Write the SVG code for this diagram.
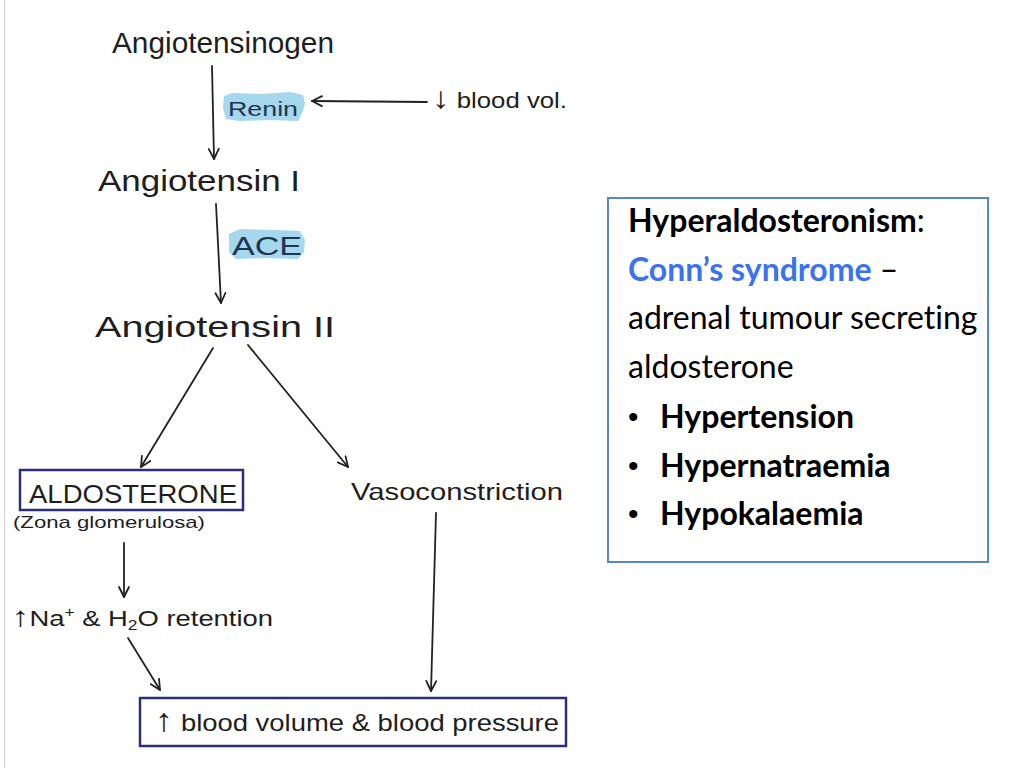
<svg xmlns="http://www.w3.org/2000/svg" width="1024" height="768" viewBox="0 0 1024 768">
<defs>
<marker id="ah" viewBox="0 0 12 12" refX="11" refY="6" markerWidth="12" markerHeight="12" markerUnits="userSpaceOnUse" orient="auto">
<path d="M1,1 L11,6 L1,11" fill="none" stroke="#222" stroke-width="1.8" stroke-linecap="round" stroke-linejoin="round"/>
</marker>
<style>
.hw{font-family:"Liberation Sans","DejaVu Sans",sans-serif;fill:#1e1e1e}
.enz{font-family:"Liberation Sans","DejaVu Sans",sans-serif;fill:#1c3550}
.hl{fill:#8fcdea;opacity:0.8}
.box{fill:none;stroke:#2e2e7e;stroke-width:2.5}
.conn{fill:none;stroke:#222;stroke-width:1.8;stroke-linecap:round;marker-end:url(#ah)}
.info{font-family:Lato,"Open Sans",sans-serif;font-size:32px;fill:#000;font-variant-ligatures:none}
.bul{font-family:"Liberation Sans",sans-serif;font-size:30px;fill:#000}
.b{font-weight:bold}
</style>
</defs>
<rect width="1024" height="768" fill="#ffffff"/>
<line x1="4.5" y1="0" x2="4.5" y2="768" stroke="#d4d4d4" stroke-width="1"/>

<g id="connectors">
<line class="conn" x1="212" y1="66" x2="214" y2="159"/>
<line class="conn" x1="427" y1="102" x2="312" y2="101"/>
<line class="conn" x1="216" y1="204" x2="221" y2="303"/>
<line class="conn" x1="213" y1="348" x2="141" y2="467"/>
<line class="conn" x1="248" y1="345" x2="348" y2="467"/>
<line class="conn" x1="124" y1="543" x2="124" y2="597"/>
<line class="conn" x1="128" y1="638" x2="160" y2="690"/>
<line class="conn" x1="436" y1="513" x2="431" y2="691"/>
</g>

<g id="angiotensinogen">
<text class="hw" x="112" y="53" font-size="30" textLength="222" lengthAdjust="spacingAndGlyphs">Angiotensinogen</text>
</g>

<g id="renin">
<path class="hl" d="M224,96 L232,93 L260,94 L290,92 L303,95 L305,104 L302,113 L298,121 L270,120 L240,121 L226,119 L223,108 Z"/>
<text class="enz" x="228" y="116" font-size="20" textLength="70" lengthAdjust="spacingAndGlyphs">Renin</text>
</g>

<g id="blood-vol">
<text class="hw" x="432" y="108" font-size="22" textLength="135" lengthAdjust="spacingAndGlyphs"><tspan font-size="30">↓</tspan> blood vol.</text>
</g>

<g id="angiotensin-1">
<text class="hw" x="98" y="191" font-size="30" textLength="202" lengthAdjust="spacingAndGlyphs">Angiotensin I</text>
</g>

<g id="ace">
<path class="hl" d="M229,234 L240,229 L275,230 L300,231 L305,240 L304,252 L298,259 L265,258 L236,259 L229,252 Z"/>
<text class="enz" x="232" y="255" font-size="26" textLength="70" lengthAdjust="spacingAndGlyphs">ACE</text>
</g>

<g id="angiotensin-2">
<text class="hw" x="95" y="337" font-size="30" textLength="240" lengthAdjust="spacingAndGlyphs">Angiotensin II</text>
</g>

<g id="aldosterone">
<rect class="box" x="20" y="470" width="223" height="40"/>
<text class="hw" x="29" y="503" font-size="25" textLength="208" lengthAdjust="spacingAndGlyphs">ALDOSTERONE</text>
<text class="hw" x="13" y="528" font-size="17" textLength="192" lengthAdjust="spacingAndGlyphs">(Zona glomerulosa)</text>
</g>

<g id="vasoconstriction">
<text class="hw" x="351" y="500" font-size="24" textLength="212" lengthAdjust="spacingAndGlyphs">Vasoconstriction</text>
</g>

<g id="retention">
<text class="hw" x="12" y="626" font-size="22" textLength="261" lengthAdjust="spacingAndGlyphs"><tspan font-size="28">↑</tspan>Na<tspan dy="-9" font-size="14">+</tspan><tspan dy="9"> &amp; H</tspan><tspan dy="4" font-size="14">2</tspan><tspan dy="-4">O retention</tspan></text>
</g>

<g id="blood-pressure">
<rect class="box" x="140" y="698" width="426" height="48"/>
<text class="hw" x="155" y="731" font-size="24" textLength="404" lengthAdjust="spacingAndGlyphs"><tspan font-size="32">↑</tspan> blood volume &amp; blood pressure</text>
</g>

<g id="info-box">
<rect x="608" y="198" width="380" height="364" fill="#ffffff" stroke="#5b86c4" stroke-width="2"/>
<text class="info b" x="628" y="232">Hyperaldosteronism<tspan font-weight="normal">:</tspan></text>
<text class="info" x="628" y="281"><tspan class="b" fill="#3b72ee">Conn’s syndrome</tspan> –</text>
<text class="info" x="628" y="329">adrenal tumour secreting</text>
<text class="info" x="628" y="378">aldosterone</text>
<text class="bul" x="628" y="427">•</text>
<text class="info b" x="660" y="428">Hypertension</text>
<text class="bul" x="628" y="476">•</text>
<text class="info b" x="660" y="477">Hypernatraemia</text>
<text class="bul" x="628" y="524">•</text>
<text class="info b" x="660" y="525">Hypokalaemia</text>
</g>
</svg>
